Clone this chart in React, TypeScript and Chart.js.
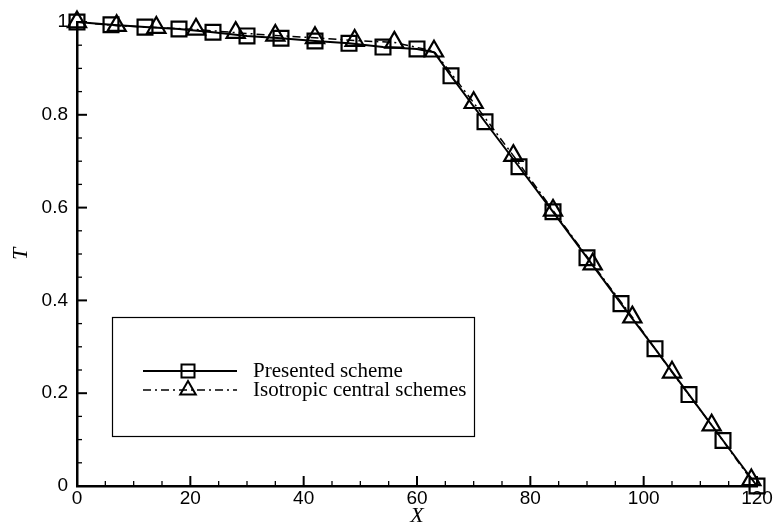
import React, { useEffect, useRef } from 'react';
import { Chart, registerables } from 'chart.js';

Chart.register(...registerables);

// ---- data ----
const presentedX = [0, 6, 12, 18, 24, 30, 36, 42, 48, 54, 60, 63, 66, 72, 78, 84, 90, 96, 102, 108, 114, 120];
const presentedT = [1.0, 0.994, 0.989, 0.985, 0.978, 0.970, 0.965, 0.959, 0.954, 0.946, 0.942, 0.935, 0.884, 0.785, 0.688, 0.591, 0.492, 0.393, 0.296, 0.197, 0.098, 0.0];
// true where a square marker is drawn (63 is only a knee of the line)
const presentedMarked = [true, true, true, true, true, true, true, true, true, true, true, false, true, true, true, true, true, true, true, true, true, true];

const isotropicX = [0, 7, 14, 21, 28, 35, 42, 49, 56, 63, 70, 77, 84, 91, 98, 105, 112, 119];
const isotropicT = [1.0, 0.992, 0.988, 0.984, 0.977, 0.971, 0.966, 0.960, 0.956, 0.937, 0.826, 0.712, 0.594, 0.478, 0.364, 0.245, 0.131, 0.013];

const seriesLabels = ['Presented scheme', 'Isotropic central schemes'];

const xTicks = [0, 20, 40, 60, 80, 100, 120];
const xMinorStep = 5;
const yTicks = [0, 0.2, 0.4, 0.6, 0.8, 1];
const yTickLabels = ['0', '0.2', '0.4', '0.6', '0.8', '1'];
const yMinorStep = 0.05;

const ticksPlugin = {
  id: 'inwardTicks',
  beforeDatasetsDraw(chart: any) {
    const { ctx, chartArea } = chart;
    const xs = chart.scales.x;
    const ys = chart.scales.y;
    ctx.save();
    ctx.strokeStyle = '#000';
    const nx = Math.round((xs.max - xs.min) / xMinorStep);
    for (let i = 0; i <= nx; i++) {
      const v = xs.min + i * xMinorStep;
      const major = xTicks.some((t) => Math.abs(t - v) < 1e-9);
      const px = xs.getPixelForValue(v);
      ctx.lineWidth = major ? 2 : 1.3;
      ctx.beginPath();
      ctx.moveTo(px, chartArea.bottom);
      ctx.lineTo(px, chartArea.bottom - (major ? 10 : 5));
      ctx.stroke();
    }
    const ny = Math.round((ys.max - ys.min) / yMinorStep);
    for (let i = 0; i <= ny; i++) {
      const v = ys.min + i * yMinorStep;
      const major = yTicks.some((t) => Math.abs(t - v) < 1e-9);
      const py = ys.getPixelForValue(v);
      ctx.lineWidth = major ? 2 : 1.3;
      ctx.beginPath();
      ctx.moveTo(chartArea.left, py);
      ctx.lineTo(chartArea.left + (major ? 10 : 5), py);
      ctx.stroke();
    }
    ctx.restore();
  },
};

const legendPlugin = {
  id: 'boxLegend',
  afterDraw(chart: any) {
    const { ctx } = chart;
    const bx = 112, by = 317, bw = 362, bh = 119;
    ctx.save();
    ctx.fillStyle = '#fff';
    ctx.fillRect(bx, by, bw, bh);
    ctx.strokeStyle = '#000';
    ctx.lineWidth = 1.2;
    ctx.strokeRect(bx + 0.5, by + 0.5, bw, bh);

    const rows = [371, 390];
    chart.data.datasets.forEach((ds: any, i: number) => {
      const y = rows[i];
      ctx.strokeStyle = '#000';
      ctx.lineWidth = ds.borderWidth;
      ctx.setLineDash(ds.borderDash || []);
      ctx.beginPath();
      ctx.moveTo(143, y);
      ctx.lineTo(237, y);
      ctx.stroke();
      ctx.setLineDash([]);
      ctx.lineWidth = 2;
      const cx = 188;
      if (ds.pointStyle === 'rect') {
        ctx.strokeRect(cx - 6.5, y - 6.5, 13, 13);
      } else {
        const r = 9;
        ctx.beginPath();
        ctx.moveTo(cx, y - r);
        ctx.lineTo(cx + r * Math.sin((2 * Math.PI) / 3), y - r * Math.cos((2 * Math.PI) / 3));
        ctx.lineTo(cx + r * Math.sin((4 * Math.PI) / 3), y - r * Math.cos((4 * Math.PI) / 3));
        ctx.closePath();
        ctx.stroke();
      }
      ctx.fillStyle = '#000';
      ctx.font = '21px "Liberation Serif", "Times New Roman", serif';
      ctx.textBaseline = 'middle';
      ctx.textAlign = 'left';
      ctx.fillText(ds.label, 253, y);
    });
    ctx.restore();
  },
};

export default function App() {
  const canvasRef = useRef<HTMLCanvasElement | null>(null);

  useEffect(() => {
    if (!canvasRef.current) return;
    const chart = new Chart(canvasRef.current, {
      type: 'line',
      data: {
        datasets: [
          {
            label: seriesLabels[0],
            data: presentedX.map((x, i) => ({ x, y: presentedT[i] })),
            borderColor: '#000',
            borderWidth: 2,
            pointStyle: 'rect',
            pointRadius: (c: any) => (presentedMarked[c.dataIndex] ? 10.5 : 0),
            pointBorderWidth: 2.2,
            pointBorderColor: '#000',
            pointBackgroundColor: 'rgba(0,0,0,0)',
            fill: false,
            tension: 0,
            clip: false,
          } as any,
          {
            label: seriesLabels[1],
            data: isotropicX.map((x, i) => ({ x, y: isotropicT[i] })),
            borderColor: '#000',
            borderWidth: 1.5,
            borderDash: [8, 4, 2, 4],
            pointStyle: 'triangle',
            pointRadius: 10.5,
            pointBorderWidth: 2.2,
            pointBorderColor: '#000',
            pointBackgroundColor: 'rgba(0,0,0,0)',
            fill: false,
            tension: 0,
            clip: false,
          } as any,
        ],
      },
      options: {
        animation: false,
        responsive: true,
        maintainAspectRatio: false,
        events: [],
        layout: { padding: { left: 0, right: 17, top: 22, bottom: 0 } },
        plugins: { legend: { display: false }, tooltip: { enabled: false } },
        scales: {
          x: {
            type: 'linear',
            min: 0,
            max: 120,
            afterBuildTicks: (axis: any) => {
              axis.ticks = xTicks.map((v) => ({ value: v }));
            },
            afterFit: (axis: any) => {
              axis.height = 39;
            },
            grid: { drawOnChartArea: false, drawTicks: false },
            border: { color: '#000', width: 2.5 },
            ticks: {
              color: '#000',
              font: { family: '"Liberation Sans", Arial, sans-serif', size: 19 },
              padding: 1,
              maxRotation: 0,
              autoSkip: false,
            },
            title: {
              display: true,
              text: 'X',
              color: '#000',
              font: { family: '"Liberation Serif", "Times New Roman", serif', size: 22, style: 'italic', lineHeight: 1 },
              padding: { top: 0, bottom: -2 },
            },
          },
          y: {
            type: 'linear',
            min: 0,
            max: 1,
            afterBuildTicks: (axis: any) => {
              axis.ticks = yTicks.map((v) => ({ value: v }));
            },
            afterFit: (axis: any) => {
              axis.width = 77;
            },
            grid: { drawOnChartArea: false, drawTicks: false },
            border: { color: '#000', width: 2.5 },
            ticks: {
              color: '#000',
              font: { family: '"Liberation Sans", Arial, sans-serif', size: 19 },
              padding: 9,
              autoSkip: false,
              callback: (_v: any, i: number) => yTickLabels[i],
            },
            title: {
              display: true,
              text: 'T',
              color: '#000',
              font: { family: '"Liberation Serif", "Times New Roman", serif', size: 22, style: 'italic', lineHeight: 1 },
              padding: { top: 10, bottom: 0 },
            },
          },
        },
      } as any,
      plugins: [ticksPlugin, legendPlugin],
    });
    return () => chart.destroy();
  }, []);

  return (
    <div style={{ position: 'absolute', left: 0, top: 0, width: 774, height: 525, background: '#fff' }}>
      <canvas ref={canvasRef} />
    </div>
  );
}
